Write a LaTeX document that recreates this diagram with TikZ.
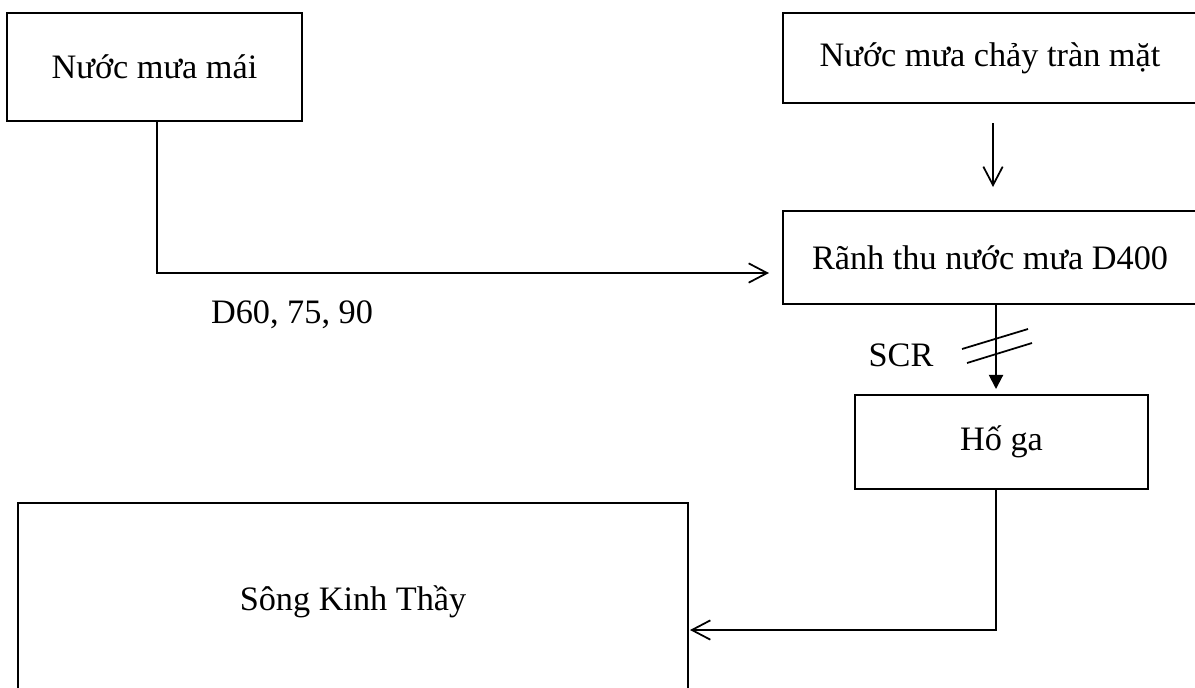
\documentclass[tikz,border=0pt]{standalone}
\usepackage{fontspec}
\setmainfont{Liberation Serif}
\usetikzlibrary{arrows.meta,calc}
\begin{document}
\begin{tikzpicture}[x=0.02cm,y=-0.02cm,
  box/.style={draw, line width=0.8pt, inner sep=0pt, align=center, font=\fontsize{19.5}{23}\selectfont},
  lbl/.style={inner sep=0pt, font=\fontsize{19.5}{23}\selectfont},
  conn/.style={line width=1.1pt},
  openarrow/.style={conn, -{Straight Barb[length=10.5pt,width=11pt,line width=1pt]}},
  filledarrow/.style={conn, -{Triangle[length=8pt,width=8pt]}}]
\useasboundingbox (0,0) rectangle (1195,687);
\clip (0,0) rectangle (1195,687);
\node[box, minimum width=5.9cm, minimum height=2.16cm] (b1) at (154.5,67) {Nước mưa mái};
\node[box, minimum width=8.28cm, minimum height=1.8cm] (b2) at (990,58) {Nước mưa chảy tràn mặt};
\node[box, minimum width=8.28cm, minimum height=1.86cm] (b3) at (990,257.5) {Rãnh thu nước mưa D400};
\node[box, minimum width=5.86cm, minimum height=1.88cm] (b4) at (1001.5,442) {Hố ga};
\node[box, minimum width=13.4cm, minimum height=3.96cm] (b5) at (353,602) {Sông Kinh Thầy};
\node[lbl] (d60) at (292,315) {D60, 75, 90};
\node[lbl] (scr) at (901,355) {SCR};
% connectors
\coordinate (c1) at (157,273);
\coordinate (c1e) at (769,273);
\draw[openarrow] (b1.south -| c1) -- (c1) -- (c1e);
\coordinate (c2s) at (993,123);
\coordinate (c2e) at (993,187);
\draw[openarrow] (c2s) -- (c2e);
\coordinate (c3) at (996,0);
\coordinate (c3e) at (996,389);
\draw[filledarrow] (b3.south -| c3) -- (c3e);
\coordinate (c4) at (996,630);
\coordinate (c4e) at (690,630);
\draw[openarrow] (b4.south -| c4) -- (c4) -- (c4e);
% double slash on SCR line
\draw[line width=1pt] (962,349) -- (1028,329);
\draw[line width=1pt] (967,363) -- (1032,343);
\end{tikzpicture}
\end{document}
